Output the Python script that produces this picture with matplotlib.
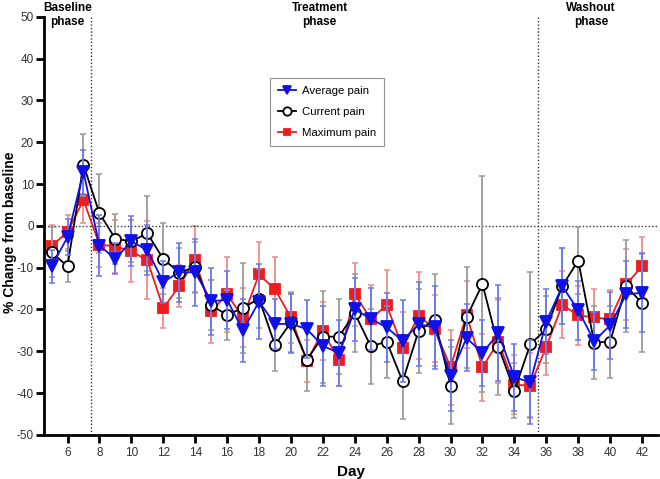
import numpy as np
import matplotlib
matplotlib.use('Agg')
import matplotlib.pyplot as plt

plt.rcParams['font.family'] = ['Liberation Sans', 'DejaVu Sans']
plt.rcParams['axes.unicode_minus'] = False

days = list(range(5, 43))

avg_pain = [-9.7, -2.7, 12.9, -4.7, -7.9, -3.7, -5.8, -13.4, -11.1, -11.1,
            -18.0, -17.7, -25.0, -18.1, -23.5, -23.4, -24.7, -28.7, -30.4, -20.0,
            -22.2, -24.3, -27.5, -23.5, -24.3, -35.8, -26.8, -30.4, -25.7, -36.2,
            -37.4, -22.9, -14.4, -20.2, -27.5, -23.8, -16.4, -16.0]
avg_err = [4, 4.3, 5.3, 7.3, 3.7, 6, 6, 5, 7, 8,
           8, 7, 7.5, 9, 6, 7, 7, 9.5, 8, 7.6,
           7.4, 8.3, 9.8, 10, 10, 8.5, 8, 8, 11.5, 8,
           10, 7.7, 9, 7, 7, 8, 8, 9.5]

cur_pain = [-6.3, -9.7, 14.6, 3.0, -3.1, -3.7, -1.8, -7.9, -11.2, -9.8,
            -19.0, -21.3, -19.6, -17.4, -28.5, -23.1, -32.0, -26.5, -26.5, -20.9,
            -28.8, -27.7, -37.2, -25.1, -22.4, -38.2, -21.9, -13.9, -28.9, -39.4,
            -28.3, -24.7, -14.4, -8.3, -27.9, -27.7, -14.4, -18.5]
cur_err = [6, 3.7, 7.4, 9.5, 6, 5, 9, 8.5, 6, 6,
           6, 6, 10.7, 7, 6.3, 7, 7.5, 11, 9, 9.3,
           9, 8.6, 9, 10, 11, 9.2, 12, 25.8, 11.6, 6.6,
           17.3, 8, 9, 8.1, 8.7, 8.6, 11, 11.7]

max_pain = [-4.8, -1.5, 6.2, -4.5, -4.9, -6.1, -8.2, -19.7, -14.4, -8.1,
            -20.4, -16.4, -21.9, -11.6, -15.2, -21.9, -32.4, -25.1, -32.2, -16.4,
            -22.2, -19.0, -29.1, -21.5, -24.6, -33.8, -21.3, -33.8, -27.7, -38.0,
            -38.2, -28.9, -18.9, -21.4, -21.9, -22.3, -14.0, -9.7]
max_err = [5, 4, 5.6, 5.3, 6.3, 7.4, 9.4, 4.8, 5, 8,
           7.5, 9, 7, 7.7, 7.8, 6, 5, 7, 6, 7.5,
           8, 8.5, 8.6, 10.4, 8, 9, 8, 8, 10, 7,
           7.7, 6.7, 8, 7, 6.7, 7, 8.5, 7]

phase_labels = ['Baseline\nphase', 'Treatment\nphase', 'Washout\nphase']
phase_label_x = [6.0, 21.8, 38.8]
phase_bounds = [7.5, 35.5]

fig = plt.figure(figsize=(6.6, 4.79), dpi=100)
ax = fig.add_axes([0.066, 0.092, 0.931, 0.873])

series = [
    (max_pain, max_err, 'Maximum pain', '#ee1c1c', '#f08a8a', 's', 6.5, 2),
    (cur_pain, cur_err, 'Current pain', 'black', '#9a9a9a', 'o', 8, 3),
    (avg_pain, avg_err, 'Average pain', '#1010e8', '#6a78f0', 'v', 8, 4),
]
handles = {}
for vals, err, name, col, ecol, mk, ms, z in series:
    ax.errorbar(days, vals, yerr=err, fmt='none', ecolor=ecol, elinewidth=1.3,
                capsize=2.5, capthick=1.1, zorder=z - 1)
    face = 'white' if mk == 'o' else col
    h, = ax.plot(days, vals, color=col, lw=1.3, marker=mk, ms=ms,
                 mfc=face, mec=col, mew=1.3, zorder=z, label=name)
    handles[name] = h

ax.axhline(0, color='#333333', ls=(0, (1, 1.5)), lw=1.0, zorder=1)
for b in phase_bounds:
    ax.axvline(b, color='#333333', ls=(0, (1, 1.5)), lw=1.0, zorder=1)

ax.set_xlim(4.5, 43)
ax.set_ylim(-50, 50)
ax.set_xticks(range(6, 43, 2))
ax.set_yticks(range(-50, 51, 10))
ax.spines['top'].set_visible(False)
ax.spines['right'].set_visible(False)
ax.spines['left'].set_linewidth(2)
ax.spines['bottom'].set_linewidth(2)
ax.tick_params(axis='both', width=2, length=6, labelsize=8.5, labelcolor='#333333')
ax.tick_params(axis='y', pad=1)
ax.tick_params(axis='x', pad=3)

ax.set_xlabel('Day', fontsize=11, fontweight='bold', labelpad=4)
ax.set_ylabel('% Change from baseline', fontsize=10, fontweight='bold')
ax.yaxis.set_label_coords(-0.043, 0.485)

for lbl, xp in zip(phase_labels, phase_label_x):
    ax.text(xp, 50.5, lbl, ha='center', va='center', fontsize=8.5,
            fontweight='bold', linespacing=1.25, clip_on=False)

leg = ax.legend([handles['Average pain'], handles['Current pain'], handles['Maximum pain']],
                ['Average pain', 'Current pain', 'Maximum pain'],
                loc='upper center', bbox_to_anchor=(0.462, 0.867), fontsize=8.2,
                frameon=True, fancybox=False, edgecolor='#777777', handlelength=1.5,
                borderpad=0.7, labelspacing=0.95, markerscale=0.75, handletextpad=0.6)
leg.get_frame().set_linewidth(0.8)

fig.savefig('out.png', dpi=100)
